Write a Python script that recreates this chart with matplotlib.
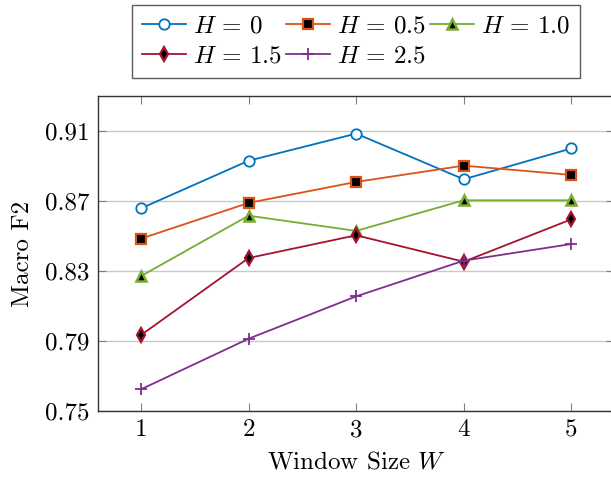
import matplotlib
matplotlib.use("Agg")
import matplotlib.pyplot as plt

plt.rcParams['font.family'] = 'serif'
plt.rcParams['font.serif'] = ['cmr10']
plt.rcParams['mathtext.fontset'] = 'cm'
plt.rcParams['axes.unicode_minus'] = False
plt.rcParams['axes.formatter.use_mathtext'] = True

windows = [1, 2, 3, 4, 5]
h_labels = [r'$H\,=\,0$', r'$H\,=\,0.5$', r'$H\,=\,1.0$', r'$H\,=\,1.5$', r'$H\,=\,2.5$']
h0 = [0.8658, 0.8930, 0.9085, 0.8824, 0.9000]
h05 = [0.8485, 0.8689, 0.8809, 0.8902, 0.8849]
h10 = [0.8271, 0.8616, 0.8529, 0.8704, 0.8704]
h15 = [0.7934, 0.8374, 0.8504, 0.8353, 0.8595]
h25 = [0.7624, 0.7913, 0.8155, 0.8359, 0.8454]
yticks = [0.75, 0.79, 0.83, 0.87, 0.91]

FS = 18

fig = plt.figure(figsize=(6.11, 4.78), dpi=100)
ax = fig.add_axes([0.1604, 0.1402, 0.845, 0.659])

lw = 1.3
series = [
    (h0, '#0072BD', dict(marker='o', mfc='white', mec='#0072BD', ms=7.5, mew=1.3)),
    (h05, '#D95319', dict(marker='s', mfc='black', mec='#D95319', ms=7.5, mew=1.6)),
    (h10, '#77AC30', dict(marker='^', mfc='black', mec='#77AC30', ms=7.5, mew=1.8)),
    (h15, '#A2142F', dict(marker='d', mfc='black', mec='#A2142F', ms=7.5, mew=1.6)),
    (h25, '#7E2F8E', dict(marker='+', mfc='#7E2F8E', mec='#7E2F8E', ms=8, mew=1.3)),
]
handles = []
for (vals, col, mk), lab in zip(series, h_labels):
    ln, = ax.plot(windows, vals, color=col, lw=lw, label=lab, zorder=3, **mk)
    handles.append(ln)

ax.set_xlim(0.6, 5.4)
ax.set_ylim(0.75, 0.93)
ax.set_xticks(windows)
ax.set_xticklabels([str(w) for w in windows])
ax.set_yticks(yticks)
ax.set_yticklabels([f'{v:.2f}' for v in yticks])
ax.yaxis.grid(True, color='#c8c8c8', lw=1.0, zorder=0)
ax.tick_params(direction='in', length=6, width=0.8, color='#808080',
               top=True, right=True, labelsize=FS, pad=6)
for sp in ax.spines.values():
    sp.set_color('#333333')
    sp.set_linewidth(1.0)

ax.set_xlabel(r'Window Size $W$', fontsize=FS, labelpad=7)
ax.set_ylabel('Macro F2', fontsize=FS, labelpad=8)

order = [0, 3, 1, 4, 2]
leg = fig.legend([handles[i] for i in order], [h_labels[i] for i in order],
                 loc='center', bbox_to_anchor=(0.5827, 0.913), ncol=3,
                 fontsize=FS, frameon=True, fancybox=False, edgecolor='#333333',
                 handlelength=1.75, handletextpad=0.3, columnspacing=0.15,
                 labelspacing=0.3, borderpad=0.4)
leg.get_frame().set_linewidth(1.0)

fig.savefig('out.png', dpi=100)
